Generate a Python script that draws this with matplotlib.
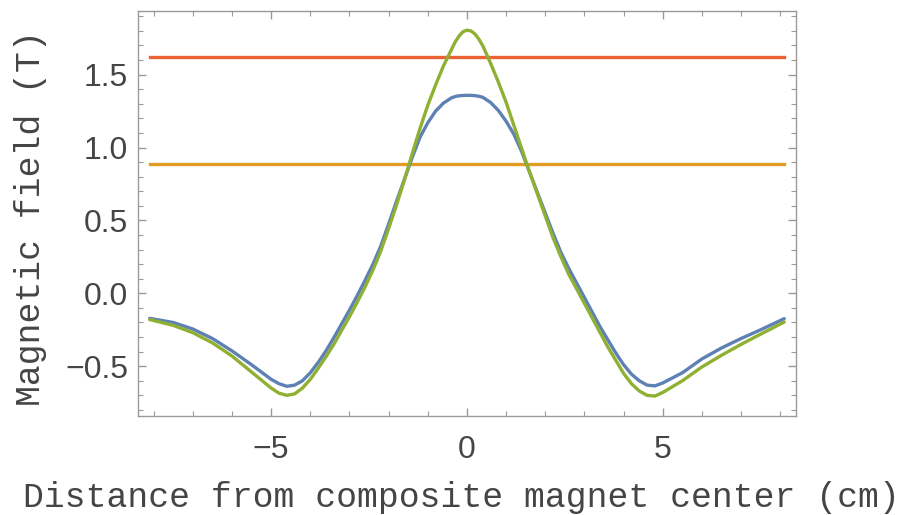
import numpy as np
import matplotlib
matplotlib.use("Agg")
import matplotlib.pyplot as plt
from matplotlib.ticker import MultipleLocator, FuncFormatter

# distance from centre (cm), shared by both measured profiles
distance = [-8.1, -7.5, -7.0, -6.5, -6.0, -5.5,
            -5.0, -4.8, -4.6, -4.4, -4.2, -4.0, -3.8, -3.6, -3.4, -3.2,
            -3.0, -2.8, -2.6, -2.4, -2.2, -2.0, -1.8, -1.6, -1.4, -1.2,
            -1.0, -0.8, -0.6, -0.4, -0.3, -0.2, -0.1, 0.0, 0.1, 0.2, 0.3, 0.4, 0.6, 0.8,
            1.0, 1.2, 1.4, 1.6, 1.8, 2.0, 2.2, 2.4, 2.6, 2.8,
            3.0, 3.2, 3.4, 3.6, 3.8, 4.0, 4.2, 4.4, 4.6, 4.8,
            5.0, 5.5, 6.0, 6.5, 7.0, 7.5, 8.1]

field_blue = [-0.172, -0.20, -0.245, -0.31, -0.395, -0.49,
              -0.59, -0.62, -0.638, -0.63, -0.60, -0.545, -0.475, -0.395, -0.305, -0.21,
              -0.115, -0.015, 0.09, 0.20, 0.325, 0.475, 0.63, 0.78, 0.93, 1.07,
              1.17, 1.25, 1.305, 1.34, 1.35, 1.355, 1.357, 1.358, 1.358, 1.356, 1.352, 1.345, 1.31, 1.255,
              1.18, 1.09, 0.97, 0.83, 0.69, 0.55, 0.41, 0.28, 0.17, 0.07,
              -0.03, -0.13, -0.23, -0.32, -0.41, -0.49, -0.555, -0.60, -0.63, -0.635,
              -0.615, -0.545, -0.45, -0.375, -0.31, -0.25, -0.174]

field_green = [-0.18, -0.22, -0.27, -0.34, -0.43, -0.54,
               -0.65, -0.685, -0.70, -0.69, -0.65, -0.59, -0.515, -0.435, -0.35, -0.255,
               -0.16, -0.06, 0.045, 0.16, 0.29, 0.445, 0.605, 0.775, 0.955, 1.13,
               1.29, 1.43, 1.56, 1.67, 1.725, 1.765, 1.795, 1.805, 1.80, 1.78, 1.745, 1.70, 1.58, 1.45,
               1.31, 1.15, 0.99, 0.83, 0.68, 0.53, 0.38, 0.25, 0.13, 0.03,
               -0.07, -0.17, -0.27, -0.37, -0.46, -0.55, -0.62, -0.67, -0.70, -0.705,
               -0.68, -0.60, -0.505, -0.425, -0.35, -0.28, -0.197]

# constant reference levels (T)
level_red = 1.623
level_orange = 0.884

fig = plt.figure(figsize=(9.1, 5.15), dpi=100)
ax = fig.add_axes([0.1516, 0.1913, 0.7231, 0.7883])

lw = 2.4
ax.plot([distance[0], distance[-1]], [level_red, level_red], color='#EB6235', lw=lw)
ax.plot([distance[0], distance[-1]], [level_orange, level_orange], color='#E19C24', lw=lw)
ax.plot(distance, field_blue, color='#5E81B5', lw=lw, solid_capstyle='round', solid_joinstyle='round')
ax.plot(distance, field_green, color='#8FB032', lw=lw, solid_capstyle='round', solid_joinstyle='round')

ax.set_xlim(-8.4, 8.4)
ax.set_ylim(-0.845, 1.94)

frame = '#9a9a9a'
for s in ax.spines.values():
    s.set_color(frame)
    s.set_linewidth(1.0)

ax.xaxis.set_major_locator(MultipleLocator(5))
ax.xaxis.set_minor_locator(MultipleLocator(1))
ax.yaxis.set_major_locator(MultipleLocator(0.5))
ax.yaxis.set_minor_locator(MultipleLocator(0.1))
ax.tick_params(which='both', direction='in', top=True, right=True, color=frame)
ax.tick_params(which='major', length=6, width=1.0)
ax.tick_params(which='minor', length=3.5, width=0.8)
ax.tick_params(axis='x', which='major', pad=13)
ax.tick_params(axis='y', which='major', pad=7)
ax.yaxis.set_major_formatter(FuncFormatter(lambda v, p: f"{v:.1f}".replace('-', '\u2212')))
ax.xaxis.set_major_formatter(FuncFormatter(lambda v, p: f"{v:.0f}".replace('-', '\u2212')))

for lab in ax.get_xticklabels() + ax.get_yticklabels():
    lab.set_fontfamily('Liberation Sans')
    lab.set_fontsize(23)
    lab.set_color('#454545')

ax.set_xlabel('Distance from composite magnet center (cm)', fontfamily='Liberation Mono',
              fontsize=25, color='#454545', va='center', ha='center')
ax.xaxis.set_label_coords(0.492, -0.199)
ax.set_ylabel('Magnetic field (T)', fontfamily='Liberation Mono',
              fontsize=25, color='#454545', va='center', ha='center')
ax.yaxis.set_label_coords(-0.164, 0.4895)

fig.savefig('out.png', dpi=100)
